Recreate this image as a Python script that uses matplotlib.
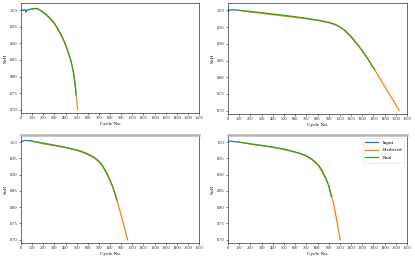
import matplotlib

matplotlib.use("Agg")
import matplotlib.pyplot as plt

# panel 1
p1_input_x = [0, 10, 20, 30, 40, 45, 50, 60, 70, 80, 90, 100]
p1_input_y = [1.000, 1.001, 0.999, 1.002, 1.000, 0.995, 1.001, 1.000, 1.003, 1.002, 1.004, 1.004]
p1_real_x = [100, 125, 150, 175, 200, 225, 250, 275, 300, 325, 350, 375, 400, 425, 450, 470, 485, 495]
p1_real_y = [1.004, 1.006, 1.005, 1.000, 0.994, 0.988, 0.980, 0.971, 0.961, 0.948, 0.933, 0.917,
             0.897, 0.874, 0.847, 0.815, 0.780, 0.745]
p1_pred_x = [100, 125, 150, 175, 200, 225, 250, 275, 300, 325, 350, 375, 400, 425, 450, 470, 485, 495, 502, 509]
p1_pred_y = [1.004, 1.005, 1.004, 0.999, 0.993, 0.986, 0.978, 0.969, 0.959, 0.946, 0.931, 0.915,
             0.895, 0.872, 0.845, 0.815, 0.782, 0.752, 0.726, 0.701]

# panel 2
p2_input_x = [0, 5, 10, 20, 30, 40, 50, 60, 70, 80, 90, 100]
p2_input_y = [1.001, 0.996, 1.001, 1.002, 1.001, 1.002, 1.001, 1.002, 1.001, 1.001, 1.000, 1.000]
p2_real_x = [100, 200, 300, 400, 500, 600, 700, 800, 900, 950, 1000, 1050, 1100, 1150, 1200, 1250, 1300, 1310]
p2_real_y = [1.000, 0.997, 0.993, 0.989, 0.985, 0.981, 0.976, 0.971, 0.964, 0.959, 0.951, 0.939,
             0.922, 0.902, 0.880, 0.855, 0.828, 0.823]
p2_pred_x = [100, 200, 300, 400, 500, 600, 700, 800, 900, 950, 1000, 1050, 1100, 1150, 1200, 1250, 1300,
             1350, 1400, 1450, 1500, 1530]
p2_pred_y = [1.000, 0.995, 0.991, 0.987, 0.983, 0.979, 0.975, 0.970, 0.963, 0.958, 0.950, 0.937,
             0.920, 0.900, 0.878, 0.854, 0.828, 0.801, 0.773, 0.746, 0.718, 0.701]

# panel 3
p3_input_x = [0, 10, 20, 30, 40, 50, 60, 70, 80, 90, 100]
p3_input_y = [1.001, 1.003, 1.004, 1.005, 1.005, 1.005, 1.005, 1.004, 1.004, 1.004, 1.003]
p3_real_x = [100, 200, 300, 400, 500, 550, 600, 650, 700, 725, 750, 775, 800, 825, 850, 860]
p3_real_y = [1.003, 0.997, 0.991, 0.984, 0.976, 0.971, 0.964, 0.955, 0.942, 0.932, 0.918, 0.902,
             0.884, 0.862, 0.835, 0.822]
p3_pred_x = [100, 200, 300, 400, 500, 550, 600, 650, 700, 725, 750, 775, 800, 825, 850, 860,
             880, 900, 920, 940, 958]
p3_pred_y = [1.003, 0.995, 0.989, 0.983, 0.975, 0.969, 0.962, 0.953, 0.940, 0.930, 0.916, 0.900,
             0.882, 0.861, 0.837, 0.826, 0.801, 0.776, 0.750, 0.724, 0.700]

# panel 4
p4_input_x = [0, 10, 20, 30, 40, 50, 60, 70, 80, 90, 100]
p4_input_y = [1.003, 1.003, 1.003, 1.003, 1.002, 1.002, 1.002, 1.001, 1.001, 1.000, 1.000]
p4_real_x = [100, 200, 300, 400, 500, 600, 650, 700, 750, 800, 825, 850, 875, 900, 915, 922]
p4_real_y = [1.000, 0.995, 0.990, 0.985, 0.979, 0.970, 0.965, 0.958, 0.948, 0.933, 0.922, 0.907,
             0.889, 0.866, 0.845, 0.833]
p4_pred_x = [100, 200, 300, 400, 500, 600, 650, 700, 750, 800, 825, 850, 875, 900, 925, 950, 975, 1003]
p4_pred_y = [1.000, 0.994, 0.989, 0.984, 0.977, 0.969, 0.964, 0.957, 0.946, 0.930, 0.918, 0.903,
             0.886, 0.868, 0.838, 0.800, 0.755, 0.700]

panels = [
    (p1_input_x, p1_input_y, p1_pred_x, p1_pred_y, p1_real_x, p1_real_y),
    (p2_input_x, p2_input_y, p2_pred_x, p2_pred_y, p2_real_x, p2_real_y),
    (p3_input_x, p3_input_y, p3_pred_x, p3_pred_y, p3_real_x, p3_real_y),
    (p4_input_x, p4_input_y, p4_pred_x, p4_pred_y, p4_real_x, p4_real_y),
]

x_ticks = list(range(0, 1700, 100))
y_ticks = [0.70, 0.75, 0.80, 0.85, 0.90, 0.95, 1.00]

plt.rcParams["font.family"] = ["Liberation Serif", "DejaVu Serif"]

W, H = 415, 264
fig = plt.figure(figsize=(W / 100, H / 100), dpi=100)
boxes = [
    (21, 3, 199, 113),
    (228, 3, 407, 114),
    (21, 135, 199, 243),
    (228, 135, 407, 243),
]

for i, ((ix, iy, px, py, rx, ry), (l, t, r, b)) in enumerate(zip(panels, boxes)):
    ax = fig.add_axes([l / W, 1 - b / H, (r - l) / W, (b - t) / H])
    ax.plot(ix, iy, color="#1f77b4", lw=0.9, label="Input")
    ax.plot(px, py, color="#ff7f0e", lw=0.9, label="Predicted")
    ax.plot(rx, ry, color="#2ca02c", lw=0.9, label="Real")
    ax.set_xlim(0, 1600)
    ax.set_ylim(0.69, 1.022)
    ax.set_xticks(x_ticks)
    ax.set_yticks(y_ticks)
    ax.set_yticklabels([f"{v:.2f}" for v in y_ticks])
    ax.tick_params(labelsize=3.2, length=1.5, width=0.4, pad=1, colors="#222222")
    ax.set_xlabel("Cycle No.", fontsize=3.7, labelpad=1)
    ax.set_ylabel("SoH", fontsize=3.7, labelpad=1.5)
    for sp in ax.spines.values():
        sp.set_linewidth(0.5)
        sp.set_color("#333333")
    if i >= 2:
        ax.spines["top"].set_color("#b5b5b5")
        ax.spines["top"].set_linewidth(1.8)
    if i == 3:
        leg = ax.legend(loc="upper right", fontsize=3.7, handlelength=2.5, borderpad=0.5,
                        labelspacing=0.6, framealpha=1, edgecolor="#dddddd")
        leg.get_frame().set_linewidth(0.4)

fig.savefig("out.png", dpi=100)
